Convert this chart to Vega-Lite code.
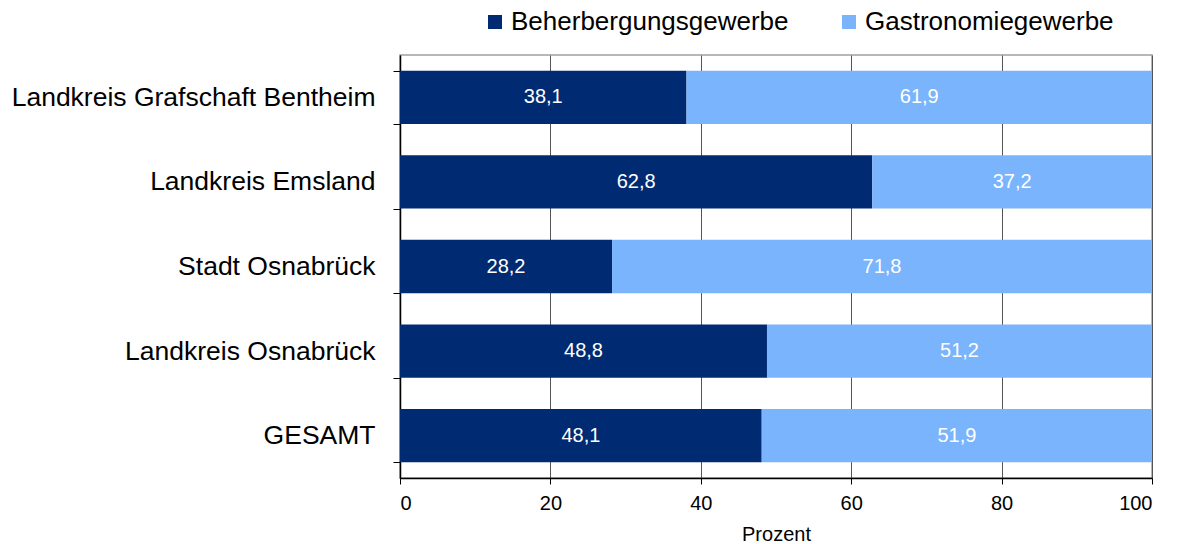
{
  "$schema": "https://vega.github.io/schema/vega-lite/v6.json",
  "width": 752,
  "height": 423,
  "autosize": "none",
  "padding": {"left": 400, "top": 55, "right": 26, "bottom": 66},
  "data": {
    "values": [
      {"region": "Landkreis Grafschaft Bentheim", "typ": "Beherbergungsgewerbe", "order": 1, "wert": 38.1},
      {"region": "Landkreis Grafschaft Bentheim", "typ": "Gastronomiegewerbe", "order": 2, "wert": 61.9},
      {"region": "Landkreis Emsland", "typ": "Beherbergungsgewerbe", "order": 1, "wert": 62.8},
      {"region": "Landkreis Emsland", "typ": "Gastronomiegewerbe", "order": 2, "wert": 37.2},
      {"region": "Stadt Osnabrück", "typ": "Beherbergungsgewerbe", "order": 1, "wert": 28.2},
      {"region": "Stadt Osnabrück", "typ": "Gastronomiegewerbe", "order": 2, "wert": 71.8},
      {"region": "Landkreis Osnabrück", "typ": "Beherbergungsgewerbe", "order": 1, "wert": 48.8},
      {"region": "Landkreis Osnabrück", "typ": "Gastronomiegewerbe", "order": 2, "wert": 51.2},
      {"region": "GESAMT", "typ": "Beherbergungsgewerbe", "order": 1, "wert": 48.1},
      {"region": "GESAMT", "typ": "Gastronomiegewerbe", "order": 2, "wert": 51.9}
    ]
  },
  "encoding": {
    "y": {
      "field": "region",
      "type": "nominal",
      "sort": null,
      "title": null,
      "scale": {"paddingInner": 0.37, "paddingOuter": 0.185},
      "axis": {
        "labelFontSize": 26.5,
        "labelFont": "Liberation Sans",
        "labelColor": "#000000",
        "labelPadding": 18,
        "tickBand": "extent",
        "tickSize": 7,
        "tickColor": "#000000",
        "domainColor": "#000000",
        "domainWidth": 1.5,
        "grid": false,
        "labelLimit": 500
      }
    },
    "x": {
      "field": "wert",
      "type": "quantitative",
      "stack": "zero",
      "title": "Prozent",
      "scale": {"domain": [0, 100], "nice": false},
      "axis": {
        "values": [0, 20, 40, 60, 80, 100],
        "labelFontSize": 20,
        "labelFont": "Liberation Sans",
        "labelColor": "#000000",
        "labelPadding": 9,
        "tickSize": 6,
        "tickColor": "#000000",
        "domainColor": "#000000",
        "domainWidth": 1.5,
        "grid": true,
        "gridColor": "#555555",
        "gridWidth": 1,
        "titleFontSize": 20,
        "titleFont": "Liberation Sans",
        "titleFontWeight": "normal",
        "titleColor": "#000000",
        "titlePadding": 11
      }
    },
    "order": {"field": "order", "type": "quantitative"}
  },
  "layer": [
    {
      "mark": {"type": "bar"},
      "encoding": {
        "color": {
          "field": "typ",
          "type": "nominal",
          "scale": {
            "domain": ["Beherbergungsgewerbe", "Gastronomiegewerbe"],
            "range": ["#002b73", "#7ab4fc"]
          },
          "legend": {
            "title": null,
            "orient": "none",
            "direction": "horizontal",
            "legendX": 82,
            "legendY": -46,
            "symbolType": "square",
            "symbolSize": 196,
            "symbolStrokeWidth": 0,
            "labelFontSize": 26,
            "labelFont": "Liberation Sans",
            "labelColor": "#000000",
            "labelOffset": 3,
            "columnPadding": 47,
            "labelLimit": 400
          }
        }
      }
    },
    {
      "mark": {"type": "text", "color": "#ffffff", "fontSize": 20, "font": "Liberation Sans", "baseline": "middle"},
      "encoding": {
        "x": {"field": "wert", "type": "quantitative", "stack": "zero", "bandPosition": 0.5},
        "text": {"field": "wert", "type": "quantitative", "format": ".1f"}
      }
    }
  ],
  "config": {
    "view": {"stroke": "#a0a0a0", "strokeWidth": 1.5},
    "locale": {"number": {"decimal": ",", "thousands": ".", "grouping": [3], "currency": ["", " €"]}}
  }
}
